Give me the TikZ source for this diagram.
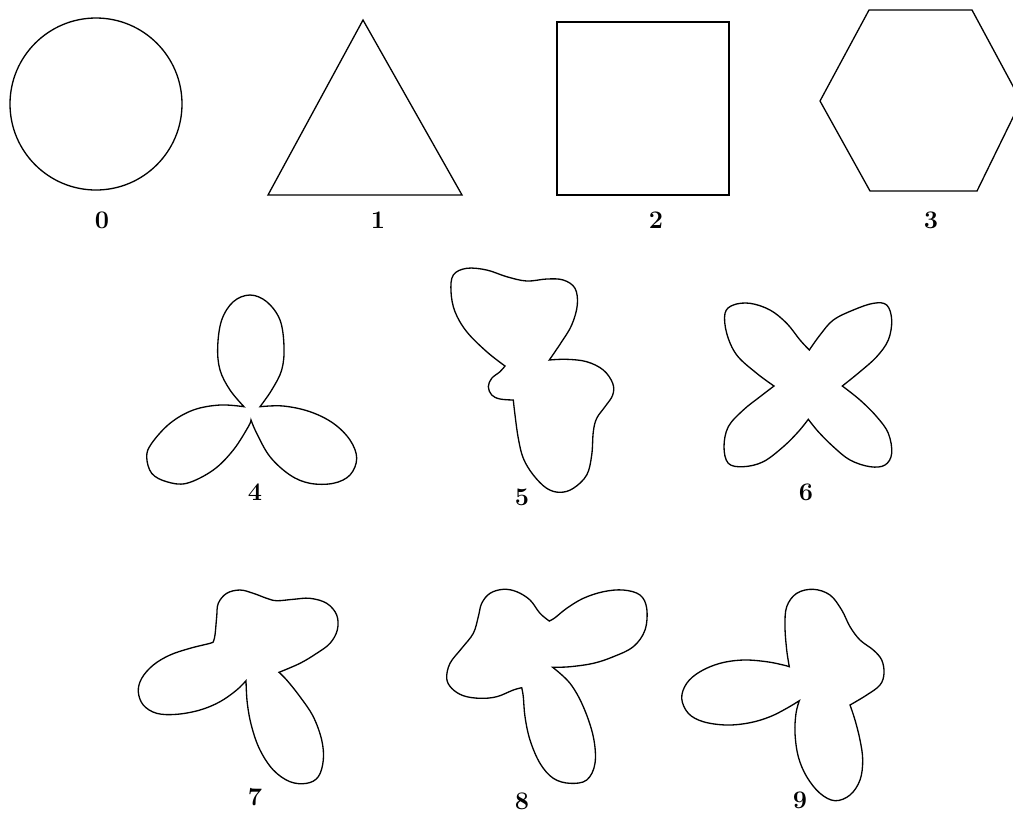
\documentclass[tikz,border=0pt]{standalone}
\usetikzlibrary{calc}
\begin{document}
\begin{tikzpicture}[x=0.02cm,y=-0.02cm]
    \tikzstyle{outline}=[line width=0.75pt,line join=miter]
    \tikzstyle{lbl}=[font=\Large\bfseries,inner sep=0pt]
    \tikzstyle{lobe}=[smooth,tension=0.6]
    \useasboundingbox (0,0) rectangle (1013,816);
    % Top row
    \draw[outline] (96,104) circle (86);
    \draw[outline] (363,20) -- (462,195) -- (268,195) -- cycle;
    \draw[outline] (557,22) rectangle (729,195);
    \draw[outline] (869,10) -- (972,10) -- (1021,101) -- (977,191) -- (870,191) -- (820,101) -- cycle;
    % Shape 4
    \draw[outline] plot[lobe] coordinates {(244,406.7) (230,390) (220,370) (217.7,346.7) (221.7,320) (233.3,301.7) (250,295) (266.7,301.7) (280,320) (284,346.7) (281.7,370) (271.7,390) (260,406.7)}
      -- plot[lobe] coordinates {(260,406.7) (283.3,406) (310,411.7) (333.3,423.3) (350,440) (356.7,458.3) (350,475) (333.3,483.3) (310,483.3) (290,475) (270,456.7) (256.7,433.3) (251,420)}
      -- plot[lobe] coordinates {(251,420) (248.3,426.7) (233.3,450) (213.3,470) (186.7,483.3) (166.7,481.7) (151.7,473.3) (146.7,456.7) (151.7,443.3) (170,423.3) (193.3,410) (220,405) (244,406.7)} -- cycle;
    % Shape 5
    \draw[outline] plot[lobe] coordinates {(549.3,360) (561.7,341.7) (571.7,325) (577.3,305) (575,288.3) (563.3,280) (546.7,279) (526.7,281) (506.7,276.7) (486.7,270) (466.7,268.3) (453.3,275) (451,291.7) (455,311.7) (466.7,331.7) (486.7,351.7) (505,366)}
      -- plot[lobe] coordinates {(505,366) (500,371.7) (491.7,378.3) (488.3,386.7) (491.7,395) (500,399) (513.3,400)}
      -- plot[lobe] coordinates {(513.3,400) (515,415) (518.3,438.3) (523.3,458.3) (533.3,475) (546.7,488.3) (560,492.3) (573.3,488.3) (586.7,475) (591.7,455) (593.3,431.7) (596.7,418.3) (605,406.7) (612.7,395) (612.7,383.3) (603.3,370) (586.7,361.7) (566.7,359.3) (549.3,360)} -- cycle;
    % Shape 6
    \draw[outline] plot[lobe] coordinates {(774,386) (756.7,373.3) (736.7,355) (726.7,333.3) (725,313.3) (733.3,305) (750,303.3) (770,310) (786.7,323.3) (800,340) (809.3,350)}
      -- plot[lobe] coordinates {(809.3,350) (820,335) (833.3,320) (853.3,310) (873.3,303.3) (886.7,305) (891.7,320) (888.3,340) (876.7,356.7) (860,371.7) (842.3,386)}
      -- plot[lobe] coordinates {(842.3,386) (860,400) (876.7,416.7) (888.3,433.3) (891.7,453.3) (885,465) (870,466.7) (850,460) (833.3,446.7) (818.3,431.7) (808.3,419.3)}
      -- plot[lobe] coordinates {(808.3,419.3) (798.3,431.7) (783.3,446.7) (763.3,461.7) (743.3,466.7) (728.3,463.3) (724,446.7) (728.3,426.7) (743.3,410) (760,396.7) (774,386)} -- cycle;
    % Shape 7
    \draw[outline] plot[lobe] coordinates {(213.3,641.7) (215,635) (216.7,616.7) (218.3,603.3) (226.7,593.3) (240,590) (253.3,593.3) (266.7,598.3) (276.7,600.7) (293.3,599.3) (310,598.3) (326.7,603.3) (336.7,615) (337.3,630) (330,643.3) (316.7,653.3) (300,663.3) (279,672.3)}
      -- plot[lobe] coordinates {(279,672.3) (286.7,680) (300,696.7) (313.3,716.7) (321.7,740) (323.3,760) (318.3,776.7) (306.7,783.3) (290,781.7) (273.3,770) (260,750) (251.7,726.7) (247.3,703.3) (246,680.7)}
      -- plot[lobe] coordinates {(246,680.7) (236.7,690) (220,701.7) (200,710) (176.7,714.3) (156.7,713.3) (143.3,705) (138.3,691.7) (141.7,678.3) (153.3,665) (170,655) (190,648.3) (210,643.3) (213.3,641.7)} -- cycle;
    % Shape 8
    \draw[outline] plot[lobe] coordinates {(549.3,621) (540,613.3) (530,600) (516.7,591.7) (503.3,589.3) (490,593.3) (481.7,603.3) (478.3,616.7) (473.3,633.3) (461.7,648.3) (450,663.3) (446.7,678.3) (451.7,688.3) (463.3,695.7) (480,698.3) (496.7,696.7) (513.3,690) (521.7,687.7)}
      -- plot[lobe] coordinates {(521.7,687.7) (523.3,696.7) (525,716.7) (530,740) (540,763.3) (553.3,778.3) (570,783.3) (586.7,780) (595,763.3) (593.3,736.7) (583.3,706.7) (570,683.3) (552.7,667.3)}
      -- plot[lobe] coordinates {(552.7,667.3) (570,666.7) (593.3,663.3) (613.3,656.7) (633.3,646.7) (645,630) (646.7,608.3) (640,595) (623.3,590) (603.3,591.7) (583.3,598.3) (566.7,608.3) (555,617.7) (549.3,621)} -- cycle;
    % Shape 9
    \draw[outline] plot[lobe] coordinates {(789.3,666.7) (786.7,650) (785,626.7) (786.7,606.7) (796.7,593.3) (813.3,589.3) (830,595) (841.7,610) (850,626.7) (860,640) (873.3,650) (881.7,660) (884,673.3) (880,685) (866.7,695) (850,705)}
      -- plot[lobe] coordinates {(850,705) (855,720) (860,740) (862.7,760) (860,780) (850,795) (835,800.7) (820,793.3) (806.7,776.7) (798.3,756.7) (795,733.3) (796,713.3) (799.3,700.7)}
      -- plot[lobe] coordinates {(799.3,700.7) (786.7,708.3) (770,716.7) (750,722.7) (726.7,725) (703.3,721.7) (688.3,713.3) (681.7,698.3) (686.7,683.3) (700,671.7) (720,663.3) (743.3,660) (766.7,661.7) (783.3,665) (789.3,666.7)} -- cycle;
    % Labels
    \node[lbl] (l0) at (102,220) {0};
    \node[lbl] (l1) at (378,220) {1};
    \node[lbl] (l2) at (656,220) {2};
    \node[lbl] (l3) at (931,220) {3};
    \node[lbl] (l4) at (255,492) {4};
    \node[lbl] (l5) at (522,497) {5};
    \node[lbl] (l6) at (806,492) {6};
    \node[lbl] (l7) at (255,797) {7};
    \node[lbl] (l8) at (522,801) {8};
    \node[lbl] (l9) at (800,800) {9};
\end{tikzpicture}
\end{document}
